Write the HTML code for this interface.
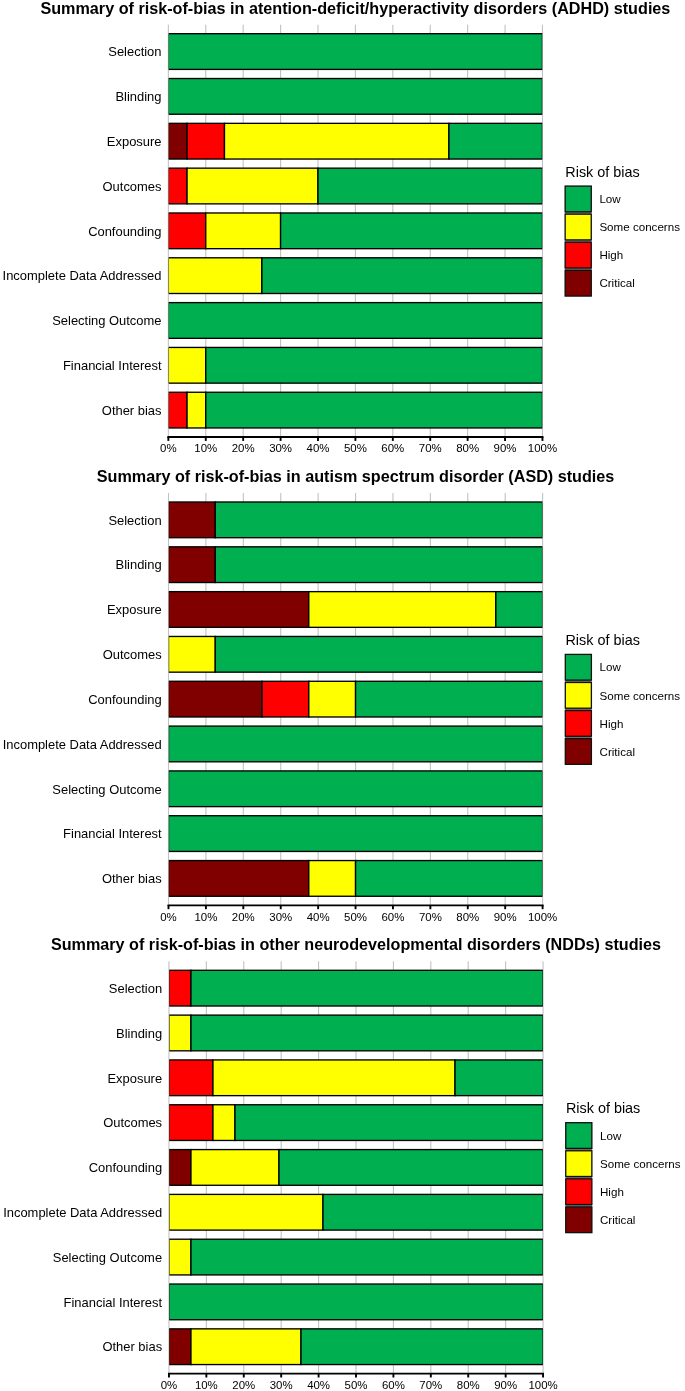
<!DOCTYPE html>
<html><head><meta charset="utf-8"><title>Risk of bias summary</title>
<style>
html,body{margin:0;padding:0;background:#fff;}
svg{display:block;}
text{font-family:"Liberation Sans",Arial,Helvetica,sans-serif;}
.t{font-weight:bold;font-size:16.18px;fill:#000;text-anchor:middle;}
.y{font-size:12.95px;fill:#000;text-anchor:end;}
.x{font-size:11.45px;fill:#000;text-anchor:middle;}
.lt{font-size:14.4px;fill:#000;}
.ll{font-size:11.6px;fill:#000;}
</style></head><body>
<svg width="685" height="1391" viewBox="0 0 685 1391">
<rect width="685" height="1391" fill="#fff"/>

<g transform="translate(0,0.00)">
<text class="t" x="355.4" y="13.8">Summary of risk-of-bias in atention-deficit/hyperactivity disorders (ADHD) studies</text>
<line x1="168.35" x2="168.35" y1="24.7" y2="437.2" stroke="#c2c2c2" stroke-width="1.1"/>
<line x1="205.76" x2="205.76" y1="24.7" y2="437.2" stroke="#c2c2c2" stroke-width="1.1"/>
<line x1="243.17" x2="243.17" y1="24.7" y2="437.2" stroke="#c2c2c2" stroke-width="1.1"/>
<line x1="280.58" x2="280.58" y1="24.7" y2="437.2" stroke="#c2c2c2" stroke-width="1.1"/>
<line x1="317.99" x2="317.99" y1="24.7" y2="437.2" stroke="#c2c2c2" stroke-width="1.1"/>
<line x1="355.40" x2="355.40" y1="24.7" y2="437.2" stroke="#c2c2c2" stroke-width="1.1"/>
<line x1="392.81" x2="392.81" y1="24.7" y2="437.2" stroke="#c2c2c2" stroke-width="1.1"/>
<line x1="430.22" x2="430.22" y1="24.7" y2="437.2" stroke="#c2c2c2" stroke-width="1.1"/>
<line x1="467.63" x2="467.63" y1="24.7" y2="437.2" stroke="#c2c2c2" stroke-width="1.1"/>
<line x1="505.04" x2="505.04" y1="24.7" y2="437.2" stroke="#c2c2c2" stroke-width="1.1"/>
<line x1="542.45" x2="542.45" y1="24.7" y2="437.2" stroke="#c2c2c2" stroke-width="1.1"/>
<clipPath id="c0"><rect x="168.65" y="24.7" width="373.60" height="412.5"/></clipPath>
<g clip-path="url(#c0)">
<rect x="168.35" y="33.70" width="374.10" height="35.7" fill="#00B050" stroke="#000" stroke-width="1.35"/>
<rect x="168.35" y="78.52" width="374.10" height="35.7" fill="#00B050" stroke="#000" stroke-width="1.35"/>
<rect x="168.35" y="123.34" width="18.71" height="35.7" fill="#800000" stroke="#000" stroke-width="1.35"/>
<rect x="187.06" y="123.34" width="37.41" height="35.7" fill="#FF0000" stroke="#000" stroke-width="1.35"/>
<rect x="224.47" y="123.34" width="224.46" height="35.7" fill="#FFFF00" stroke="#000" stroke-width="1.35"/>
<rect x="448.92" y="123.34" width="93.53" height="35.7" fill="#00B050" stroke="#000" stroke-width="1.35"/>
<rect x="168.35" y="168.16" width="18.71" height="35.7" fill="#FF0000" stroke="#000" stroke-width="1.35"/>
<rect x="187.06" y="168.16" width="130.94" height="35.7" fill="#FFFF00" stroke="#000" stroke-width="1.35"/>
<rect x="317.99" y="168.16" width="224.46" height="35.7" fill="#00B050" stroke="#000" stroke-width="1.35"/>
<rect x="168.35" y="212.98" width="37.41" height="35.7" fill="#FF0000" stroke="#000" stroke-width="1.35"/>
<rect x="205.76" y="212.98" width="74.82" height="35.7" fill="#FFFF00" stroke="#000" stroke-width="1.35"/>
<rect x="280.58" y="212.98" width="261.87" height="35.7" fill="#00B050" stroke="#000" stroke-width="1.35"/>
<rect x="168.35" y="257.80" width="93.53" height="35.7" fill="#FFFF00" stroke="#000" stroke-width="1.35"/>
<rect x="261.88" y="257.80" width="280.58" height="35.7" fill="#00B050" stroke="#000" stroke-width="1.35"/>
<rect x="168.35" y="302.62" width="374.10" height="35.7" fill="#00B050" stroke="#000" stroke-width="1.35"/>
<rect x="168.35" y="347.44" width="37.41" height="35.7" fill="#FFFF00" stroke="#000" stroke-width="1.35"/>
<rect x="205.76" y="347.44" width="336.69" height="35.7" fill="#00B050" stroke="#000" stroke-width="1.35"/>
<rect x="168.35" y="392.26" width="18.71" height="35.7" fill="#FF0000" stroke="#000" stroke-width="1.35"/>
<rect x="187.06" y="392.26" width="18.70" height="35.7" fill="#FFFF00" stroke="#000" stroke-width="1.35"/>
<rect x="205.76" y="392.26" width="336.69" height="35.7" fill="#00B050" stroke="#000" stroke-width="1.35"/>
</g>
<text class="y" x="161.5" y="56.30">Selection</text>
<text class="y" x="161.5" y="101.12">Blinding</text>
<text class="y" x="161.5" y="145.94">Exposure</text>
<text class="y" x="161.5" y="190.76">Outcomes</text>
<text class="y" x="161.5" y="235.58">Confounding</text>
<text class="y" x="161.5" y="280.40">Incomplete Data Addressed</text>
<text class="y" x="161.5" y="325.22">Selecting Outcome</text>
<text class="y" x="161.5" y="370.04">Financial Interest</text>
<text class="y" x="161.5" y="414.86">Other bias</text>
<line x1="167.35" x2="543.45" y1="437" y2="437" stroke="#000" stroke-width="1.85"/>
<line x1="168.35" x2="168.35" y1="437" y2="440.9" stroke="#000" stroke-width="1.9"/>
<text class="x" x="168.35" y="452.3">0%</text>
<line x1="205.76" x2="205.76" y1="437" y2="440.9" stroke="#000" stroke-width="1.9"/>
<text class="x" x="205.76" y="452.3">10%</text>
<line x1="243.17" x2="243.17" y1="437" y2="440.9" stroke="#000" stroke-width="1.9"/>
<text class="x" x="243.17" y="452.3">20%</text>
<line x1="280.58" x2="280.58" y1="437" y2="440.9" stroke="#000" stroke-width="1.9"/>
<text class="x" x="280.58" y="452.3">30%</text>
<line x1="317.99" x2="317.99" y1="437" y2="440.9" stroke="#000" stroke-width="1.9"/>
<text class="x" x="317.99" y="452.3">40%</text>
<line x1="355.40" x2="355.40" y1="437" y2="440.9" stroke="#000" stroke-width="1.9"/>
<text class="x" x="355.40" y="452.3">50%</text>
<line x1="392.81" x2="392.81" y1="437" y2="440.9" stroke="#000" stroke-width="1.9"/>
<text class="x" x="392.81" y="452.3">60%</text>
<line x1="430.22" x2="430.22" y1="437" y2="440.9" stroke="#000" stroke-width="1.9"/>
<text class="x" x="430.22" y="452.3">70%</text>
<line x1="467.63" x2="467.63" y1="437" y2="440.9" stroke="#000" stroke-width="1.9"/>
<text class="x" x="467.63" y="452.3">80%</text>
<line x1="505.04" x2="505.04" y1="437" y2="440.9" stroke="#000" stroke-width="1.9"/>
<text class="x" x="505.04" y="452.3">90%</text>
<line x1="542.45" x2="542.45" y1="437" y2="440.9" stroke="#000" stroke-width="1.9"/>
<text class="x" x="542.45" y="452.3">100%</text>
<text class="lt" x="565.3" y="176.9">Risk of bias</text>
<rect x="564.9" y="185.85" width="26.6" height="110.44" fill="#707070"/>
<rect x="565.15" y="186.10" width="26.10" height="25.70" fill="#00B050" stroke="#111" stroke-width="1.3"/>
<text class="ll" x="599.4" y="203.20">Low</text>
<rect x="565.15" y="214.18" width="26.10" height="25.70" fill="#FFFF00" stroke="#111" stroke-width="1.3"/>
<text class="ll" x="599.4" y="231.28">Some concerns</text>
<rect x="565.15" y="242.26" width="26.10" height="25.70" fill="#FF0000" stroke="#111" stroke-width="1.3"/>
<text class="ll" x="599.4" y="259.36">High</text>
<rect x="565.15" y="270.34" width="26.10" height="25.70" fill="#800000" stroke="#111" stroke-width="1.3"/>
<text class="ll" x="599.4" y="287.44">Critical</text>
</g>
<g transform="translate(0.15,468.30)">
<text class="t" x="355.4" y="13.8">Summary of risk-of-bias in autism spectrum disorder (ASD) studies</text>
<line x1="168.35" x2="168.35" y1="24.7" y2="437.2" stroke="#c2c2c2" stroke-width="1.1"/>
<line x1="205.76" x2="205.76" y1="24.7" y2="437.2" stroke="#c2c2c2" stroke-width="1.1"/>
<line x1="243.17" x2="243.17" y1="24.7" y2="437.2" stroke="#c2c2c2" stroke-width="1.1"/>
<line x1="280.58" x2="280.58" y1="24.7" y2="437.2" stroke="#c2c2c2" stroke-width="1.1"/>
<line x1="317.99" x2="317.99" y1="24.7" y2="437.2" stroke="#c2c2c2" stroke-width="1.1"/>
<line x1="355.40" x2="355.40" y1="24.7" y2="437.2" stroke="#c2c2c2" stroke-width="1.1"/>
<line x1="392.81" x2="392.81" y1="24.7" y2="437.2" stroke="#c2c2c2" stroke-width="1.1"/>
<line x1="430.22" x2="430.22" y1="24.7" y2="437.2" stroke="#c2c2c2" stroke-width="1.1"/>
<line x1="467.63" x2="467.63" y1="24.7" y2="437.2" stroke="#c2c2c2" stroke-width="1.1"/>
<line x1="505.04" x2="505.04" y1="24.7" y2="437.2" stroke="#c2c2c2" stroke-width="1.1"/>
<line x1="542.45" x2="542.45" y1="24.7" y2="437.2" stroke="#c2c2c2" stroke-width="1.1"/>
<clipPath id="c1"><rect x="168.65" y="24.7" width="373.60" height="412.5"/></clipPath>
<g clip-path="url(#c1)">
<rect x="168.35" y="33.70" width="46.76" height="35.7" fill="#800000" stroke="#000" stroke-width="1.35"/>
<rect x="215.11" y="33.70" width="327.34" height="35.7" fill="#00B050" stroke="#000" stroke-width="1.35"/>
<rect x="168.35" y="78.52" width="46.76" height="35.7" fill="#800000" stroke="#000" stroke-width="1.35"/>
<rect x="215.11" y="78.52" width="327.34" height="35.7" fill="#00B050" stroke="#000" stroke-width="1.35"/>
<rect x="168.35" y="123.34" width="140.29" height="35.7" fill="#800000" stroke="#000" stroke-width="1.35"/>
<rect x="308.64" y="123.34" width="187.05" height="35.7" fill="#FFFF00" stroke="#000" stroke-width="1.35"/>
<rect x="495.69" y="123.34" width="46.76" height="35.7" fill="#00B050" stroke="#000" stroke-width="1.35"/>
<rect x="168.35" y="168.16" width="46.76" height="35.7" fill="#FFFF00" stroke="#000" stroke-width="1.35"/>
<rect x="215.11" y="168.16" width="327.34" height="35.7" fill="#00B050" stroke="#000" stroke-width="1.35"/>
<rect x="168.35" y="212.98" width="93.53" height="35.7" fill="#800000" stroke="#000" stroke-width="1.35"/>
<rect x="261.88" y="212.98" width="46.76" height="35.7" fill="#FF0000" stroke="#000" stroke-width="1.35"/>
<rect x="308.64" y="212.98" width="46.76" height="35.7" fill="#FFFF00" stroke="#000" stroke-width="1.35"/>
<rect x="355.40" y="212.98" width="187.05" height="35.7" fill="#00B050" stroke="#000" stroke-width="1.35"/>
<rect x="168.35" y="257.80" width="374.10" height="35.7" fill="#00B050" stroke="#000" stroke-width="1.35"/>
<rect x="168.35" y="302.62" width="374.10" height="35.7" fill="#00B050" stroke="#000" stroke-width="1.35"/>
<rect x="168.35" y="347.44" width="374.10" height="35.7" fill="#00B050" stroke="#000" stroke-width="1.35"/>
<rect x="168.35" y="392.26" width="140.29" height="35.7" fill="#800000" stroke="#000" stroke-width="1.35"/>
<rect x="308.64" y="392.26" width="46.76" height="35.7" fill="#FFFF00" stroke="#000" stroke-width="1.35"/>
<rect x="355.40" y="392.26" width="187.05" height="35.7" fill="#00B050" stroke="#000" stroke-width="1.35"/>
</g>
<text class="y" x="161.5" y="56.30">Selection</text>
<text class="y" x="161.5" y="101.12">Blinding</text>
<text class="y" x="161.5" y="145.94">Exposure</text>
<text class="y" x="161.5" y="190.76">Outcomes</text>
<text class="y" x="161.5" y="235.58">Confounding</text>
<text class="y" x="161.5" y="280.40">Incomplete Data Addressed</text>
<text class="y" x="161.5" y="325.22">Selecting Outcome</text>
<text class="y" x="161.5" y="370.04">Financial Interest</text>
<text class="y" x="161.5" y="414.86">Other bias</text>
<line x1="167.35" x2="543.45" y1="437" y2="437" stroke="#000" stroke-width="1.85"/>
<line x1="168.35" x2="168.35" y1="437" y2="440.9" stroke="#000" stroke-width="1.9"/>
<text class="x" x="168.35" y="452.3">0%</text>
<line x1="205.76" x2="205.76" y1="437" y2="440.9" stroke="#000" stroke-width="1.9"/>
<text class="x" x="205.76" y="452.3">10%</text>
<line x1="243.17" x2="243.17" y1="437" y2="440.9" stroke="#000" stroke-width="1.9"/>
<text class="x" x="243.17" y="452.3">20%</text>
<line x1="280.58" x2="280.58" y1="437" y2="440.9" stroke="#000" stroke-width="1.9"/>
<text class="x" x="280.58" y="452.3">30%</text>
<line x1="317.99" x2="317.99" y1="437" y2="440.9" stroke="#000" stroke-width="1.9"/>
<text class="x" x="317.99" y="452.3">40%</text>
<line x1="355.40" x2="355.40" y1="437" y2="440.9" stroke="#000" stroke-width="1.9"/>
<text class="x" x="355.40" y="452.3">50%</text>
<line x1="392.81" x2="392.81" y1="437" y2="440.9" stroke="#000" stroke-width="1.9"/>
<text class="x" x="392.81" y="452.3">60%</text>
<line x1="430.22" x2="430.22" y1="437" y2="440.9" stroke="#000" stroke-width="1.9"/>
<text class="x" x="430.22" y="452.3">70%</text>
<line x1="467.63" x2="467.63" y1="437" y2="440.9" stroke="#000" stroke-width="1.9"/>
<text class="x" x="467.63" y="452.3">80%</text>
<line x1="505.04" x2="505.04" y1="437" y2="440.9" stroke="#000" stroke-width="1.9"/>
<text class="x" x="505.04" y="452.3">90%</text>
<line x1="542.45" x2="542.45" y1="437" y2="440.9" stroke="#000" stroke-width="1.9"/>
<text class="x" x="542.45" y="452.3">100%</text>
<text class="lt" x="565.3" y="176.3">Risk of bias</text>
<rect x="564.9" y="185.85" width="26.6" height="110.44" fill="#707070"/>
<rect x="565.15" y="186.10" width="26.10" height="25.70" fill="#00B050" stroke="#111" stroke-width="1.3"/>
<text class="ll" x="599.4" y="203.20">Low</text>
<rect x="565.15" y="214.18" width="26.10" height="25.70" fill="#FFFF00" stroke="#111" stroke-width="1.3"/>
<text class="ll" x="599.4" y="231.28">Some concerns</text>
<rect x="565.15" y="242.26" width="26.10" height="25.70" fill="#FF0000" stroke="#111" stroke-width="1.3"/>
<text class="ll" x="599.4" y="259.36">High</text>
<rect x="565.15" y="270.34" width="26.10" height="25.70" fill="#800000" stroke="#111" stroke-width="1.3"/>
<text class="ll" x="599.4" y="287.44">Critical</text>
</g>
<g transform="translate(0.6,936.60)">
<text class="t" x="355.4" y="13.8">Summary of risk-of-bias in other neurodevelopmental disorders (NDDs) studies</text>
<line x1="168.35" x2="168.35" y1="24.7" y2="437.2" stroke="#c2c2c2" stroke-width="1.1"/>
<line x1="205.76" x2="205.76" y1="24.7" y2="437.2" stroke="#c2c2c2" stroke-width="1.1"/>
<line x1="243.17" x2="243.17" y1="24.7" y2="437.2" stroke="#c2c2c2" stroke-width="1.1"/>
<line x1="280.58" x2="280.58" y1="24.7" y2="437.2" stroke="#c2c2c2" stroke-width="1.1"/>
<line x1="317.99" x2="317.99" y1="24.7" y2="437.2" stroke="#c2c2c2" stroke-width="1.1"/>
<line x1="355.40" x2="355.40" y1="24.7" y2="437.2" stroke="#c2c2c2" stroke-width="1.1"/>
<line x1="392.81" x2="392.81" y1="24.7" y2="437.2" stroke="#c2c2c2" stroke-width="1.1"/>
<line x1="430.22" x2="430.22" y1="24.7" y2="437.2" stroke="#c2c2c2" stroke-width="1.1"/>
<line x1="467.63" x2="467.63" y1="24.7" y2="437.2" stroke="#c2c2c2" stroke-width="1.1"/>
<line x1="505.04" x2="505.04" y1="24.7" y2="437.2" stroke="#c2c2c2" stroke-width="1.1"/>
<line x1="542.45" x2="542.45" y1="24.7" y2="437.2" stroke="#c2c2c2" stroke-width="1.1"/>
<clipPath id="c2"><rect x="168.65" y="24.7" width="373.60" height="412.5"/></clipPath>
<g clip-path="url(#c2)">
<rect x="168.35" y="33.70" width="22.01" height="35.7" fill="#FF0000" stroke="#000" stroke-width="1.35"/>
<rect x="190.36" y="33.70" width="352.09" height="35.7" fill="#00B050" stroke="#000" stroke-width="1.35"/>
<rect x="168.35" y="78.52" width="22.01" height="35.7" fill="#FFFF00" stroke="#000" stroke-width="1.35"/>
<rect x="190.36" y="78.52" width="352.09" height="35.7" fill="#00B050" stroke="#000" stroke-width="1.35"/>
<rect x="168.35" y="123.34" width="44.01" height="35.7" fill="#FF0000" stroke="#000" stroke-width="1.35"/>
<rect x="212.36" y="123.34" width="242.06" height="35.7" fill="#FFFF00" stroke="#000" stroke-width="1.35"/>
<rect x="454.43" y="123.34" width="88.02" height="35.7" fill="#00B050" stroke="#000" stroke-width="1.35"/>
<rect x="168.35" y="168.16" width="44.01" height="35.7" fill="#FF0000" stroke="#000" stroke-width="1.35"/>
<rect x="212.36" y="168.16" width="22.01" height="35.7" fill="#FFFF00" stroke="#000" stroke-width="1.35"/>
<rect x="234.37" y="168.16" width="308.08" height="35.7" fill="#00B050" stroke="#000" stroke-width="1.35"/>
<rect x="168.35" y="212.98" width="22.01" height="35.7" fill="#800000" stroke="#000" stroke-width="1.35"/>
<rect x="190.36" y="212.98" width="88.02" height="35.7" fill="#FFFF00" stroke="#000" stroke-width="1.35"/>
<rect x="278.38" y="212.98" width="264.07" height="35.7" fill="#00B050" stroke="#000" stroke-width="1.35"/>
<rect x="168.35" y="257.80" width="154.04" height="35.7" fill="#FFFF00" stroke="#000" stroke-width="1.35"/>
<rect x="322.39" y="257.80" width="220.06" height="35.7" fill="#00B050" stroke="#000" stroke-width="1.35"/>
<rect x="168.35" y="302.62" width="22.01" height="35.7" fill="#FFFF00" stroke="#000" stroke-width="1.35"/>
<rect x="190.36" y="302.62" width="352.09" height="35.7" fill="#00B050" stroke="#000" stroke-width="1.35"/>
<rect x="168.35" y="347.44" width="374.10" height="35.7" fill="#00B050" stroke="#000" stroke-width="1.35"/>
<rect x="168.35" y="392.26" width="22.01" height="35.7" fill="#800000" stroke="#000" stroke-width="1.35"/>
<rect x="190.36" y="392.26" width="110.03" height="35.7" fill="#FFFF00" stroke="#000" stroke-width="1.35"/>
<rect x="300.39" y="392.26" width="242.06" height="35.7" fill="#00B050" stroke="#000" stroke-width="1.35"/>
</g>
<text class="y" x="161.5" y="56.30">Selection</text>
<text class="y" x="161.5" y="101.12">Blinding</text>
<text class="y" x="161.5" y="145.94">Exposure</text>
<text class="y" x="161.5" y="190.76">Outcomes</text>
<text class="y" x="161.5" y="235.58">Confounding</text>
<text class="y" x="161.5" y="280.40">Incomplete Data Addressed</text>
<text class="y" x="161.5" y="325.22">Selecting Outcome</text>
<text class="y" x="161.5" y="370.04">Financial Interest</text>
<text class="y" x="161.5" y="414.86">Other bias</text>
<line x1="167.35" x2="543.45" y1="437" y2="437" stroke="#000" stroke-width="1.85"/>
<line x1="168.35" x2="168.35" y1="437" y2="440.9" stroke="#000" stroke-width="1.9"/>
<text class="x" x="168.35" y="452.3">0%</text>
<line x1="205.76" x2="205.76" y1="437" y2="440.9" stroke="#000" stroke-width="1.9"/>
<text class="x" x="205.76" y="452.3">10%</text>
<line x1="243.17" x2="243.17" y1="437" y2="440.9" stroke="#000" stroke-width="1.9"/>
<text class="x" x="243.17" y="452.3">20%</text>
<line x1="280.58" x2="280.58" y1="437" y2="440.9" stroke="#000" stroke-width="1.9"/>
<text class="x" x="280.58" y="452.3">30%</text>
<line x1="317.99" x2="317.99" y1="437" y2="440.9" stroke="#000" stroke-width="1.9"/>
<text class="x" x="317.99" y="452.3">40%</text>
<line x1="355.40" x2="355.40" y1="437" y2="440.9" stroke="#000" stroke-width="1.9"/>
<text class="x" x="355.40" y="452.3">50%</text>
<line x1="392.81" x2="392.81" y1="437" y2="440.9" stroke="#000" stroke-width="1.9"/>
<text class="x" x="392.81" y="452.3">60%</text>
<line x1="430.22" x2="430.22" y1="437" y2="440.9" stroke="#000" stroke-width="1.9"/>
<text class="x" x="430.22" y="452.3">70%</text>
<line x1="467.63" x2="467.63" y1="437" y2="440.9" stroke="#000" stroke-width="1.9"/>
<text class="x" x="467.63" y="452.3">80%</text>
<line x1="505.04" x2="505.04" y1="437" y2="440.9" stroke="#000" stroke-width="1.9"/>
<text class="x" x="505.04" y="452.3">90%</text>
<line x1="542.45" x2="542.45" y1="437" y2="440.9" stroke="#000" stroke-width="1.9"/>
<text class="x" x="542.45" y="452.3">100%</text>
<text class="lt" x="565.3" y="176.1">Risk of bias</text>
<rect x="564.9" y="185.85" width="26.6" height="110.44" fill="#707070"/>
<rect x="565.15" y="186.10" width="26.10" height="25.70" fill="#00B050" stroke="#111" stroke-width="1.3"/>
<text class="ll" x="599.4" y="203.20">Low</text>
<rect x="565.15" y="214.18" width="26.10" height="25.70" fill="#FFFF00" stroke="#111" stroke-width="1.3"/>
<text class="ll" x="599.4" y="231.28">Some concerns</text>
<rect x="565.15" y="242.26" width="26.10" height="25.70" fill="#FF0000" stroke="#111" stroke-width="1.3"/>
<text class="ll" x="599.4" y="259.36">High</text>
<rect x="565.15" y="270.34" width="26.10" height="25.70" fill="#800000" stroke="#111" stroke-width="1.3"/>
<text class="ll" x="599.4" y="287.44">Critical</text>
</g>
</svg></body></html>
